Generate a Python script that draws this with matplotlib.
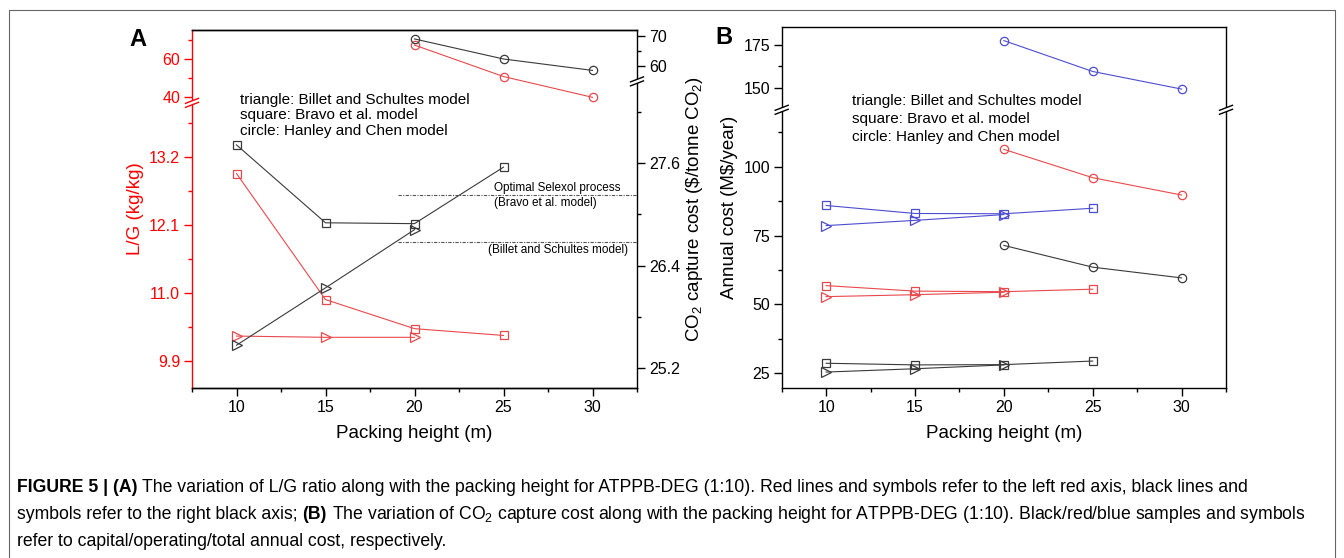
import numpy as np
import matplotlib
matplotlib.use('Agg')
import matplotlib.pyplot as plt
from matplotlib.lines import Line2D
from matplotlib.ticker import FixedLocator, MultipleLocator, NullFormatter, FuncFormatter

plt.rcParams['font.family'] = ['Liberation Sans', 'DejaVu Sans']
plt.rcParams['mathtext.fontset'] = 'custom'
plt.rcParams['mathtext.rm'] = 'Liberation Sans'
plt.rcParams['mathtext.it'] = 'Liberation Sans:italic'
plt.rcParams['mathtext.bf'] = 'Liberation Sans:bold'

W, H = 1344, 558

# packing heights (m)
h_bravo = [10, 15, 20, 25]
h_billet = [10, 15, 20]
h_hanley = [20, 25, 30]

# panel A: L/G ratio (left axis) and CO2 capture cost (right axis)
lg_bravo = [12.94, 10.90, 10.43, 10.32]
lg_billet = [10.31, 10.29, 10.29]
lg_hanley = [67.4, 50.9, 40.0]
cost_bravo = [27.81, 26.90, 26.89, 27.55]
cost_billet = [25.47, 26.14, 26.82]
cost_hanley = [68.9, 62.4, 58.7]
selexol_bravo = 27.22
selexol_billet = 26.67

# panel B: annual cost (M$/year)
cap_bravo = [28.6, 28.0, 28.1, 29.4]
cap_billet = [25.4, 26.6, 28.0]
cap_hanley = [71.4, 63.5, 59.6]
op_bravo = [56.8, 54.8, 54.6, 55.5]
op_billet = [52.8, 53.5, 54.4]
op_hanley = [106.3, 96.0, 89.7]
tot_bravo = [85.9, 83.0, 82.9, 84.9]
tot_billet = [78.6, 80.5, 82.6]
tot_hanley = [177.5, 159.6, 149.4]

RED_AX = '#ff0000'
RED = '#e8494d'
BLK = '#3a3a3a'
BLUE = '#4d4dd0'

fig = plt.figure(figsize=(W / 100, H / 100), dpi=100)


def broken_scale(ax, vals, pos):
    # piecewise linear y scale with a compressed gap = axis break
    fwd = lambda v: np.interp(v, vals, pos)
    inv = lambda p: np.interp(p, pos, vals)
    ax.set_yscale('function', functions=(fwd, inv))
    ax.set_ylim(vals[0], vals[-1])


def break_mark(ax, xf, yf, color):
    bb = ax.get_position()
    pw, ph = bb.width * W, bb.height * H
    dx, dy, g = 6.5 / pw, 2.5 / ph, 2.0 / ph
    ax.plot([xf, xf], [yf - g, yf + g], transform=ax.transAxes, color='white',
            lw=3, clip_on=False, zorder=10, solid_capstyle='butt')
    for s in (-g, g):
        ax.plot([xf - dx, xf + dx], [yf + s - dy, yf + s + dy], transform=ax.transAxes,
                color=color, lw=1, clip_on=False, zorder=11)


def series(ax, x, y, marker, color, ms):
    ax.plot(x, y, marker=marker, ls='-', color=color, lw=0.8, ms=ms, mfc='none',
            mec=color, mew=0.9)


def fmt(v, _):
    return f'{v:.1f}' if v < 30 else f'{v:.0f}'


def style_x(ax):
    ax.set_xlim(7.5, 32.5)
    ax.xaxis.set_major_locator(MultipleLocator(5))
    ax.xaxis.set_minor_locator(MultipleLocator(2.5))
    ax.set_xlabel('Packing height (m)', fontsize=13.5, labelpad=7)


tick_kw = dict(direction='out', labelsize=11.5, width=1, pad=3)

# ---------------- panel A ----------------
axA = fig.add_axes([192 / W, 1 - 388 / H, 445 / W, 358 / H])
axA2 = axA.twinx()
broken_scale(axA, [9.47, 14.08, 37.2, 75.3], [0, 0.796, 0.797, 1])
broken_scale(axA2, [24.97, 28.55, 55.2, 71.8], [0, 0.856, 0.857, 1])
style_x(axA)

series(axA, h_bravo, lg_bravo, 's', RED, 5.5)
series(axA, h_billet, lg_billet, '>', RED, 7)
series(axA, h_hanley, lg_hanley, 'o', RED, 6)
series(axA2, h_bravo, cost_bravo, 's', BLK, 5.5)
series(axA2, h_billet, cost_billet, '>', BLK, 7)
series(axA2, h_hanley, cost_hanley, 'o', BLK, 6)

dash = (0, (3, 1.2, 1, 1.2))
axA2.hlines([selexol_bravo, selexol_billet], 19.1, 32.5, colors='#555555', lw=0.8, linestyles=[dash])
axA2.text(24.47, 27.31, 'Optimal Selexol process', fontsize=8.5, va='center', ha='left')
axA2.text(24.47, 27.13, '(Bravo et al. model)', fontsize=8.5, va='center', ha='left')
axA2.text(24.15, 26.58, '(Billet and Schultes model)', fontsize=8.5, va='center', ha='left')

for i, s in enumerate(['triangle: Billet and Schultes model', 'square: Bravo et al. model',
                       'circle: Hanley and Chen model']):
    axA.text(0.108, 0.805 - i * 0.043, s, transform=axA.transAxes, fontsize=11, va='center')

axA.yaxis.set_major_locator(FixedLocator([9.9, 11.0, 12.1, 13.2, 40, 60]))
axA.yaxis.set_minor_locator(FixedLocator([10.45, 11.55, 12.65, 13.75, 50, 70]))
axA.yaxis.set_major_formatter(FuncFormatter(fmt))
axA.yaxis.set_minor_formatter(NullFormatter())
axA2.yaxis.set_major_locator(FixedLocator([25.2, 26.4, 27.6, 60, 70]))
axA2.yaxis.set_minor_locator(FixedLocator([25.8, 27.0, 28.2, 65]))
axA2.yaxis.set_major_formatter(FuncFormatter(fmt))
axA2.yaxis.set_minor_formatter(NullFormatter())

axA.tick_params(which='both', **tick_kw)
axA.tick_params(axis='y', which='both', colors=RED_AX)
axA.tick_params(which='major', length=5.5)
axA.tick_params(which='minor', length=3)
axA2.tick_params(which='both', **tick_kw)
axA2.tick_params(which='major', length=5.5)
axA2.tick_params(which='minor', length=3)
for sp in axA.spines.values():
    sp.set_linewidth(1)
for sp in axA2.spines.values():
    sp.set_linewidth(1)
axA.spines['left'].set_color(RED_AX)
axA.spines['right'].set_visible(False)
axA2.spines['left'].set_visible(False)
axA.set_ylabel('L/G (kg/kg)', color=RED_AX, fontsize=13.5)
axA2.set_ylabel(r'CO$_2$ capture cost (\$/tonne CO$_2$)', fontsize=13.5, labelpad=3)
break_mark(axA, 0, 0.7965, RED_AX)
break_mark(axA2, 1, 0.8565, 'black')

# ---------------- panel B ----------------
axB = fig.add_axes([781.7 / W, 1 - 388.3 / H, 444.3 / W, 361 / H])
broken_scale(axB, [19.5, 120.6, 137.5, 185.2], [0, 0.771, 0.772, 1])
style_x(axB)

series(axB, h_bravo, cap_bravo, 's', BLK, 5.5)
series(axB, h_billet, cap_billet, '>', BLK, 7)
series(axB, h_hanley, cap_hanley, 'o', BLK, 6)
series(axB, h_bravo, op_bravo, 's', RED, 5.5)
series(axB, h_billet, op_billet, '>', RED, 7)
series(axB, h_hanley, op_hanley, 'o', RED, 6)
series(axB, h_bravo, tot_bravo, 's', BLUE, 5.5)
series(axB, h_billet, tot_billet, '>', BLUE, 7)
series(axB, h_hanley, tot_hanley, 'o', BLUE, 6)

for i, s in enumerate(['triangle: Billet and Schultes model', 'square: Bravo et al. model',
                       'circle: Hanley and Chen model']):
    axB.text(0.159, 0.797 - i * 0.05, s, transform=axB.transAxes, fontsize=11, va='center')

axB.yaxis.set_major_locator(FixedLocator([25, 50, 75, 100, 150, 175]))
axB.yaxis.set_minor_locator(FixedLocator([37.5, 62.5, 87.5, 112.5, 162.5]))
axB.yaxis.set_major_formatter(FuncFormatter(lambda v, _: f'{v:.0f}'))
axB.yaxis.set_minor_formatter(NullFormatter())
axB.tick_params(which='both', **tick_kw)
axB.tick_params(which='major', length=5.5)
axB.tick_params(which='minor', length=3)
for sp in axB.spines.values():
    sp.set_linewidth(1)
axB.set_ylabel('Annual cost (M$/year)', fontsize=13.5)
break_mark(axB, 0, 0.7715, 'black')
break_mark(axB, 1, 0.7715, 'black')

# panel letters
fig.text(138 / W, 1 - 40 / H, 'A', fontsize=17, fontweight='bold', ha='center', va='center')
fig.text(724 / W, 1 - 38 / H, 'B', fontsize=17, fontweight='bold', ha='center', va='center')

# frame around figure
fig.add_artist(Line2D([9 / W, 9 / W, 1335 / W, 1335 / W], [0, 1 - 10 / H, 1 - 10 / H, 0],
                      transform=fig.transFigure, color='#666666', lw=0.8))

# caption, drawn piece by piece so bold parts can be mixed in
cap_fs = 12.7
r = fig.canvas.get_renderer()
t1 = fig.text(0, 0, 'x x', fontsize=cap_fs)
t2 = fig.text(0, 0, 'xx', fontsize=cap_fs)
space = t1.get_window_extent(r).width - t2.get_window_extent(r).width
t1.remove()
t2.remove()

caption = [
    (492, [('FIGURE 5 | (A)', 'bold'),
           ('The variation of L/G ratio along with the packing height for ATPPB-DEG (1:10). '
            'Red lines and symbols refer to the left red axis, black lines and', 'normal')]),
    (519, [('symbols refer to the right black axis;', 'normal'), ('(B)', 'bold'),
           ('The variation of CO$_2$ capture cost along with the packing height for ATPPB-DEG (1:10). '
            'Black/red/blue samples and symbols', 'normal')]),
    (546, [('refer to capital/operating/total annual cost, respectively.', 'normal')]),
]
for y, pieces in caption:
    x = 17
    for s, w in pieces:
        t = fig.text(x / W, 1 - y / H, s, fontsize=cap_fs, fontweight=w, ha='left', va='baseline')
        x = t.get_window_extent(r).x1 + space

fig.savefig('out.png', dpi=100, facecolor='white')
